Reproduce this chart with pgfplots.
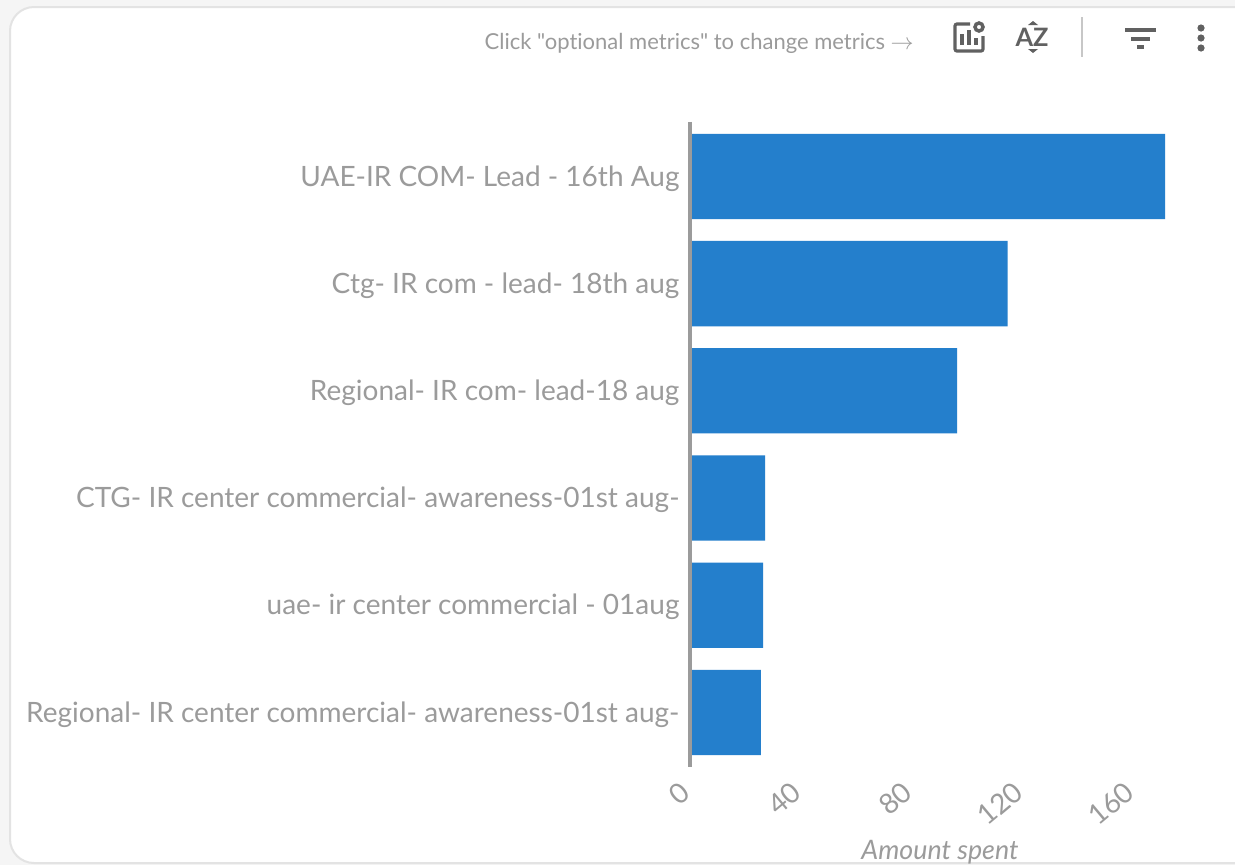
\documentclass[border=0pt]{standalone}
\usepackage{pgfplots}
\pgfplotsset{compat=1.18}
\usepackage{fontspec}
\setmainfont{Lato}[Ligatures={TeX,NoCommon}]
\newfontfamily\plainlato{Lato}[Ligatures=NoCommon]
\definecolor{barblue}{HTML}{247FCC}
\definecolor{labgray}{HTML}{9B9B9B}
\definecolor{icongray}{HTML}{616161}
\begin{document}
\begin{tikzpicture}[x=0.75pt,y=-0.75pt]
  % page and card
  \path[use as bounding box] (0,0) rectangle (1235,865);
  \fill[black!4] (0,0) rectangle (1235,865);
  \draw[black!11,line width=1.5pt,fill=white,rounded corners=18pt]
    (10,7) rectangle (1260,863);

  % toolbar
  \node[anchor=east,inner sep=0pt,text=labgray,font=\plainlato\fontsize{16.5}{20}\selectfont] at (914,43)
    {Click "optional metrics" to change metrics $\rightarrow$};
  \draw[icongray,line width=2.4pt,rounded corners=1.5pt] (970,24) -- (955,24) -- (955,51) -- (983,51) -- (983,36);
  \draw[icongray,line width=2.4pt] (962,34) -- (962,45) (969,30) -- (969,45) (976,38) -- (976,45);
  \draw[icongray,line width=2.6pt] (979,27) circle (4);
  \node[inner sep=0pt,text=icongray,font=\fontsize{19}{20}\selectfont\bfseries] at (1032,37) {AZ};
  \fill[icongray] (1033,21) -- (1038,25) -- (1028,25) -- cycle;
  \fill[icongray] (1033,53) -- (1038,49) -- (1028,49) -- cycle;
  \draw[black!22,line width=2.2pt] (1082,17) -- (1082,57);
  \draw[icongray,line width=2.4pt] (1125,30) -- (1156,30) (1131,39) -- (1150,39) (1137,47) -- (1144,47);
  \fill[icongray] (1201,28) circle (3.6) (1201,38) circle (3.6) (1201,48) circle (3.6);

  \begin{axis}[
      at={(517.5pt,-574.5pt)}, anchor=south west,
      scale only axis,
      width=375pt, height=482.4pt,
      xmin=0, xmax=180,
      ymin=-0.5, ymax=5.5,
      y dir=reverse,
      xbar, bar width=64pt,
      axis lines=left,
      x axis line style={draw=none},
      y axis line style={draw=none},
      clip=false,
      major tick length=0pt,
      xtick={0,40,80,120,160},
      ytick={0,1,2,3,4,5},
      yticklabels={UAE-IR COM- Lead - 16th Aug,Ctg- IR com - lead- 18th aug,Regional- IR com- lead-18 aug,CTG- IR center commercial- awareness-01st aug-,uae- ir center commercial - 01aug,Regional- IR center commercial- awareness-01st aug-},
      /pgf/number format/assume math mode=true,
      yticklabel style={text=labgray,font=\fontsize{21}{24}\selectfont,inner sep=0pt,xshift=-7.7pt,yshift=-1.5pt},
      xticklabel style={text=labgray,font=\fontsize{21}{24}\selectfont,rotate=40,anchor=north east,inner sep=0pt,yshift=-2.5pt,xshift=-13pt},
      xlabel={\itshape Amount spent},
      xlabel style={text=labgray,font=\fontsize{20.1}{24}\selectfont,at={(axis description cs:0.5,0)},anchor=center,yshift=-65pt},
    ]
    \addplot[draw=none,fill=barblue] coordinates {(171,0) (114.3,1) (96.2,2) (27,3) (26.3,4) (25.5,5)};
    % vertical axis line, over the bar ends
    \draw[labgray,line width=2.4pt] (axis cs:0,-0.51) -- (axis cs:0,5.51);
  \end{axis}
\end{tikzpicture}
\end{document}
